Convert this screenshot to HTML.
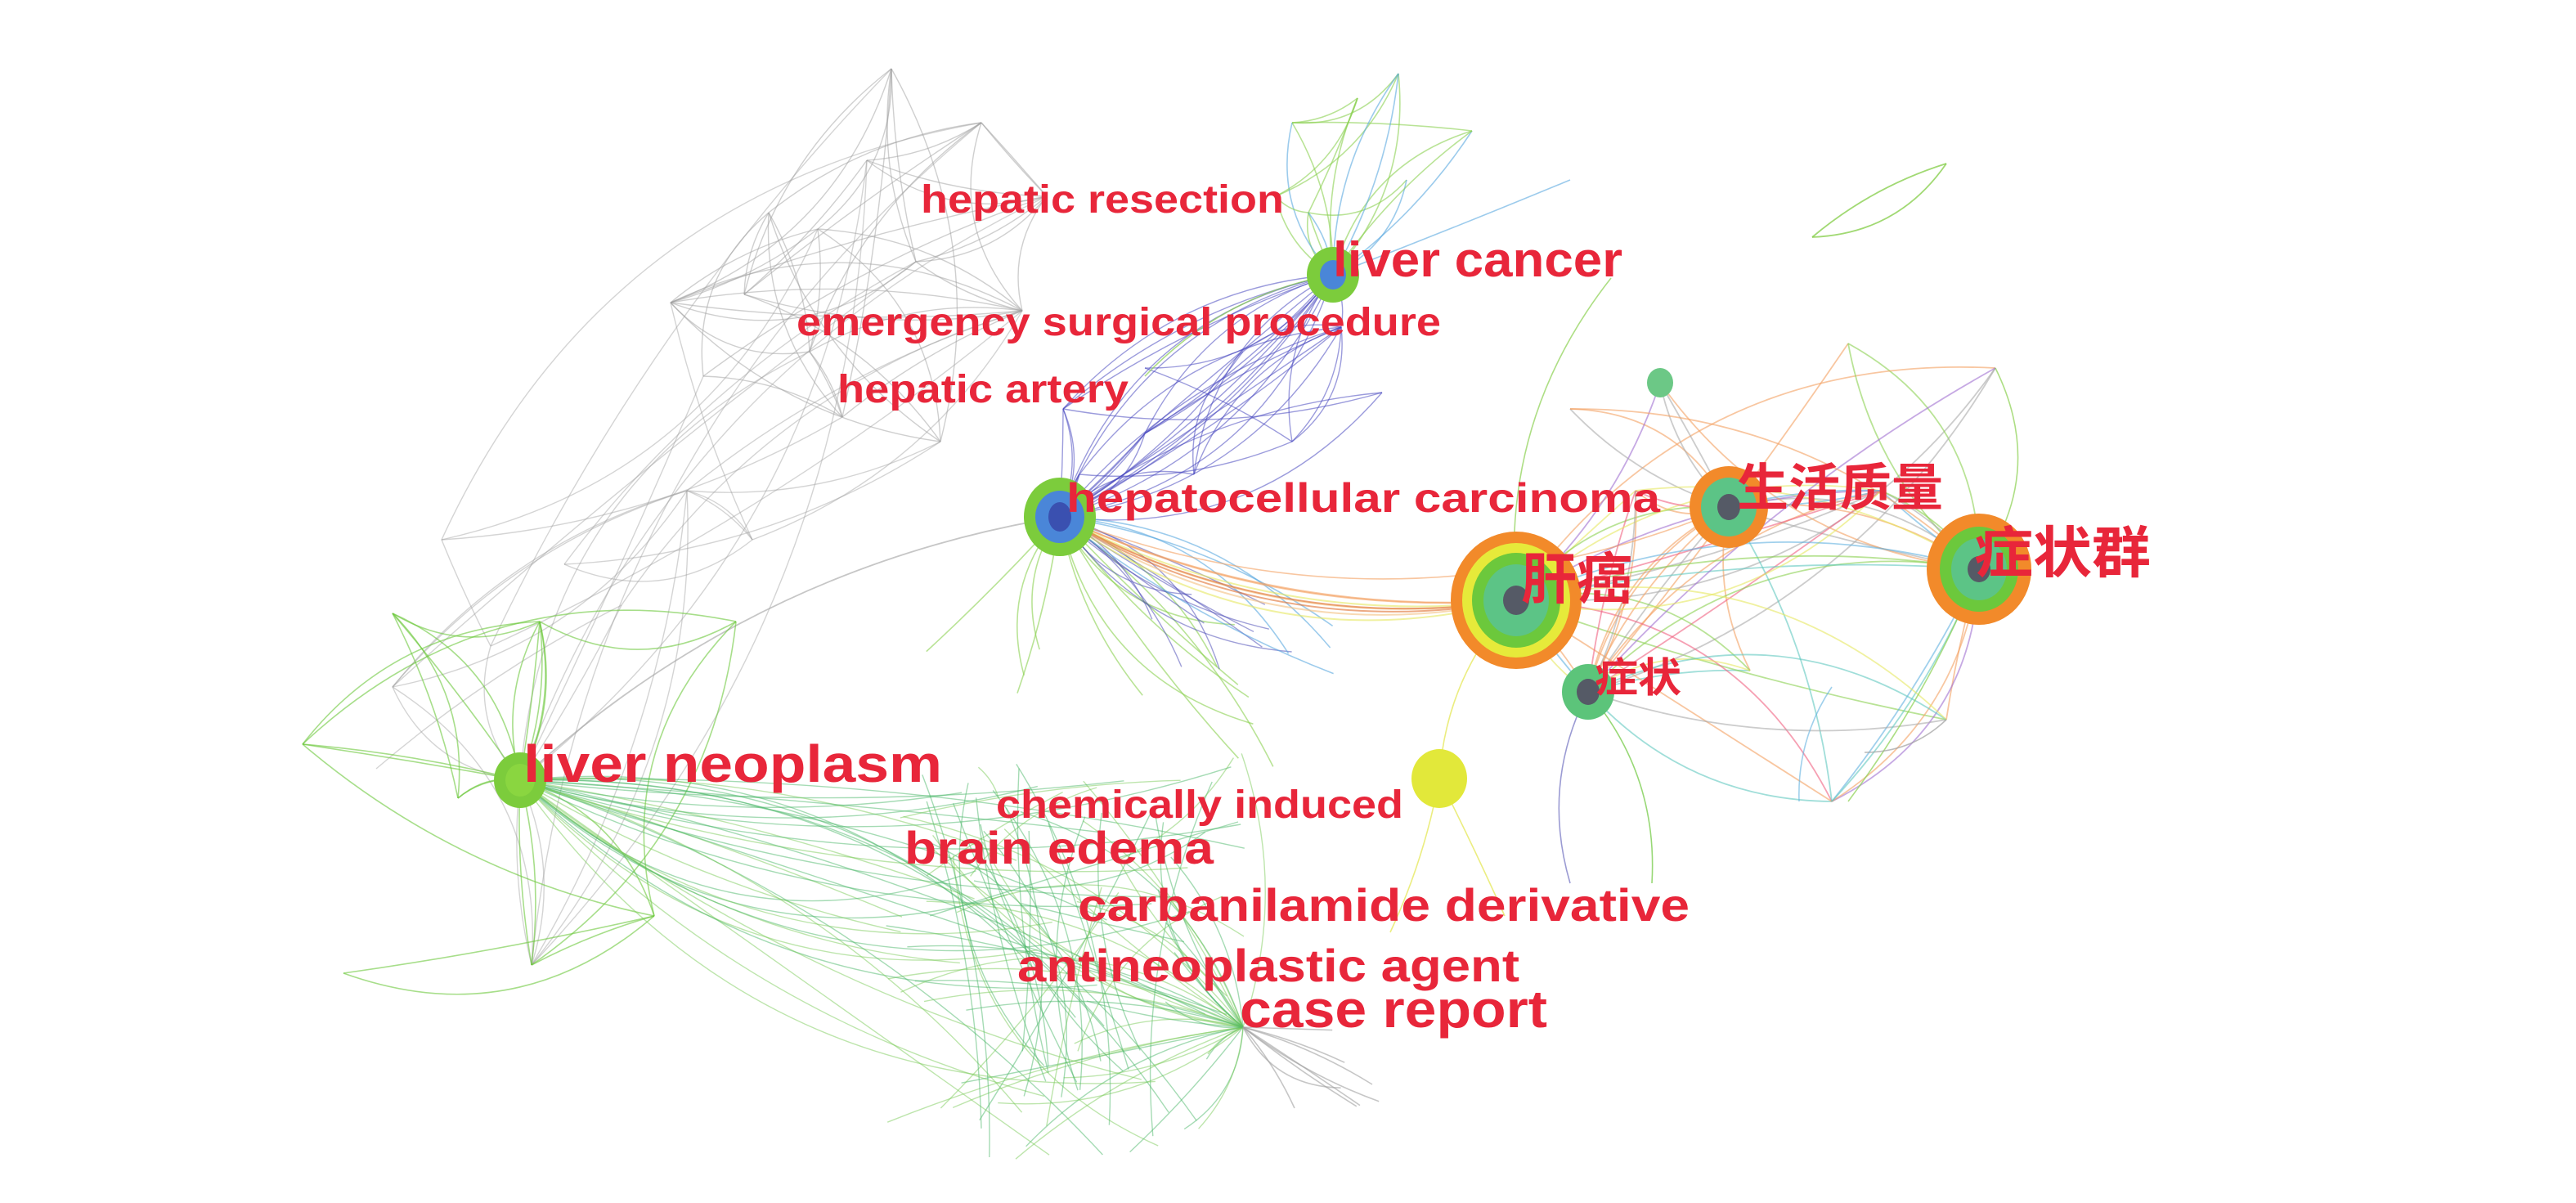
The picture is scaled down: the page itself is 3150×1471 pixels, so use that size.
<!DOCTYPE html>
<html><head><meta charset="utf-8"><style>
html,body{margin:0;padding:0;background:#fff;}
svg{display:block;}
text{font-family:"Liberation Sans","Noto Sans CJK SC",sans-serif;font-weight:bold;fill:#e8263a;}
</style></head><body>
<svg id="s" width="3150" height="1471" viewBox="0 0 1575 735.5" preserveAspectRatio="none" xmlns="http://www.w3.org/2000/svg">
<g id="edges" fill="none"></g>
<g id="nodes">
  <ellipse cx="927" cy="367" rx="40" ry="42" fill="#f28a2a"/>
  <ellipse cx="927" cy="367" rx="33" ry="35" fill="#e6ea3a"/>
  <ellipse cx="927" cy="367" rx="27" ry="29" fill="#6cc83c"/>
  <ellipse cx="927" cy="367" rx="20" ry="22" fill="#5cc486"/>
  <ellipse cx="927" cy="367" rx="8" ry="9" fill="#555a66"/>
  <ellipse cx="1057" cy="310" rx="24" ry="25" fill="#f28a2a"/>
  <ellipse cx="1057" cy="310" rx="17" ry="18" fill="#5cc486"/>
  <ellipse cx="1057" cy="310" rx="7" ry="8" fill="#555a66"/>
  <ellipse cx="1210" cy="348" rx="32" ry="34" fill="#f28a2a"/>
  <ellipse cx="1210" cy="348" rx="24" ry="26" fill="#6cc83c"/>
  <ellipse cx="1210" cy="348" rx="17" ry="19" fill="#5cc486"/>
  <ellipse cx="1210" cy="348" rx="7" ry="8" fill="#555a66"/>
  <ellipse cx="971" cy="423" rx="16" ry="17" fill="#5cc47a"/>
  <ellipse cx="971" cy="423" rx="7" ry="8" fill="#555a66"/>
  <ellipse cx="648" cy="316" rx="22" ry="24" fill="#7ccc3c"/>
  <ellipse cx="648" cy="316" rx="15" ry="16" fill="#4a86d8"/>
  <ellipse cx="648" cy="316" rx="7" ry="9" fill="#3a50b0"/>
  <ellipse cx="815" cy="168" rx="16" ry="17" fill="#7ccc3c"/>
  <ellipse cx="815" cy="168" rx="8" ry="9" fill="#4a86d8"/>
  <ellipse cx="318" cy="477" rx="16" ry="17" fill="#7ccc3c"/>
  <ellipse cx="318" cy="477" rx="9" ry="10" fill="#8ad640"/>
  <ellipse cx="880" cy="476" rx="17" ry="18" fill="#e2e83a"/>
  <ellipse cx="1015" cy="234" rx="8" ry="9" fill="#6cc886"/>
</g>
<g id="labels">
  <text x="563" y="130" font-size="24" textLength="222" lengthAdjust="spacingAndGlyphs">hepatic resection</text>
  <text x="815" y="169" font-size="30" textLength="177" lengthAdjust="spacingAndGlyphs">liver cancer</text>
  <text x="487" y="205" font-size="24" textLength="394" lengthAdjust="spacingAndGlyphs">emergency surgical procedure</text>
  <text x="512" y="246" font-size="24" textLength="178" lengthAdjust="spacingAndGlyphs">hepatic artery</text>
  <text x="652" y="313" font-size="25" textLength="363" lengthAdjust="spacingAndGlyphs">hepatocellular carcinoma</text>
  <text x="1062" y="309" font-size="31" textLength="126" lengthAdjust="spacingAndGlyphs">生活质量</text>
  <text x="930" y="366" font-size="34" textLength="68" lengthAdjust="spacingAndGlyphs">肝癌</text>
  <text x="1207" y="350" font-size="34" textLength="108" lengthAdjust="spacingAndGlyphs">症状群</text>
  <text x="975" y="423" font-size="25" textLength="53" lengthAdjust="spacingAndGlyphs">症状</text>
  <text x="320" y="478" font-size="32" textLength="256" lengthAdjust="spacingAndGlyphs">liver neoplasm</text>
  <text x="609" y="500" font-size="24" textLength="249" lengthAdjust="spacingAndGlyphs">chemically induced</text>
  <text x="553" y="528" font-size="28" textLength="189" lengthAdjust="spacingAndGlyphs">brain edema</text>
  <text x="659" y="563" font-size="28" textLength="374" lengthAdjust="spacingAndGlyphs">carbanilamide derivative</text>
  <text x="622" y="600" font-size="28" textLength="307" lengthAdjust="spacingAndGlyphs">antineoplastic agent</text>
  <text x="758" y="628" font-size="32" textLength="188" lengthAdjust="spacingAndGlyphs">case report</text>
</g>
</svg>
<script>
(function(){
var seed=12345;function r(){seed=(seed*16807)%2147483647;return seed/2147483647;}
var g=document.getElementById('edges');var out='';
function curve(a,b,c,w,op,bend){
  var dx=b[0]-a[0],dy=b[1]-a[1];var k=(bend===undefined)?(r()*0.6-0.3):bend;
  var mx=(a[0]+b[0])/2-dy*k,my=(a[1]+b[1])/2+dx*k;
  out+='<path d="M'+a[0].toFixed(1)+' '+a[1].toFixed(1)+'Q'+mx.toFixed(1)+' '+my.toFixed(1)+' '+b[0].toFixed(1)+' '+b[1].toFixed(1)+'" stroke="'+c+'" stroke-width="'+w+'" stroke-opacity="'+op+'"/>';
}
function rp(x0,y0,x1,y1){return [x0+r()*(x1-x0),y0+r()*(y1-y0)];}
var gray='#a0a0a0';
var gp=[[545,42],[470,130],[410,185],[575,270],[640,120],[530,98],[455,180],[515,255],[600,75],[495,215],[560,160],[430,230],[625,190],[500,140]];
for(var i=0;i<50;i++){var a=gp[Math.floor(r()*gp.length)],b=gp[Math.floor(r()*gp.length)];if(a===b)continue;curve(a,b,gray,0.7,0.5);}
var gl=[[318,477],[345,345],[270,330],[300,395],[240,420],[420,300],[380,370],[460,330],[325,590],[230,470]];
for(var i=0;i<35;i++){var a=gl[Math.floor(r()*gl.length)],b=r()<0.5?gp[Math.floor(r()*gp.length)]:gl[Math.floor(r()*gl.length)];if(a===b)continue;curve(a,b,gray,0.7,0.45);}
curve([318,477],[648,316],gray,0.9,0.6,-0.15);
var gL=[[185,455],[210,595],[325,590],[240,375],[330,380],[280,488],[400,560],[450,380]];
for(var i=0;i<26;i++){var a=gL[Math.floor(r()*gL.length)],b=r()<0.6?[318,477]:gL[Math.floor(r()*gL.length)];if(a===b)continue;curve(a,b,'#6cc83c',0.8,0.6);}
var cr=[760,628];
for(var i=0;i<90;i++){var p=rp(540,460,770,710);var hub=r()<0.45?[318,477]:(r()<0.6?cr:rp(550,470,760,560));curve(p,hub,r()<0.5?'#4cb86a':'#7ccc5a',0.7,0.5);}
for(var i=0;i<16;i++){curve(rp(560,460,680,520),rp(600,640,700,710),'#4cb86a',0.7,0.5);}
for(var i=0;i<8;i++){curve(cr,rp(790,620,850,680),gray,0.8,0.6);}
for(var i=0;i<12;i++){curve([648,316],rp(560,380,780,470),'#8ad050',0.8,0.6);}
var pp=[[650,250],[700,225],[760,215],[845,240],[790,270],[730,290],[660,290],[820,200],[700,265]];
for(var i=0;i<50;i++){var a=r()<0.4?[648,316]:pp[Math.floor(r()*pp.length)],b=r()<0.3?[815,168]:pp[Math.floor(r()*pp.length)];if(a===b)continue;curve(a,b,'#4848c0',0.7,0.55);}
for(var i=0;i<10;i++){curve([648,316],rp(700,350,800,420),'#5050b8',0.7,0.55);}
for(var i=0;i<4;i++){curve([648,316],rp(780,380,830,420),'#5aa8e0',0.8,0.6);}
var lc=[[790,75],[855,45],[800,130],[860,110],[830,60],[780,120],[900,80]];
for(var i=0;i<22;i++){var a=r()<0.5?[815,168]:lc[Math.floor(r()*lc.length)],b=lc[Math.floor(r()*lc.length)];if(a===b)continue;curve(a,b,r()<0.7?'#8ad050':'#5aa8e0',0.8,0.6);}
curve([815,168],[700,230],'#8ad050',0.8,0.7);curve([815,168],[960,110],'#5aa8e0',0.8,0.6);
var R=[[927,367],[1057,310],[1210,348],[971,423],[1015,234],[1130,210],[1220,225],[1190,440],[1120,490],[960,250],[1000,300],[1070,410],[1150,300]];
var cols=['#f4a060','#f4a060','#f4a060','#aaaaaa','#aaaaaa','#e6e860','#8ad050','#60b0e0','#f06080','#a070d0','#60c8c0'];
for(var i=0;i<70;i++){var a=R[Math.floor(r()*4)],b=R[Math.floor(r()*R.length)];if(a===b)continue;curve(a,b,cols[Math.floor(r()*cols.length)],0.9,0.6);}
for(var i=0;i<8;i++){curve([648,316],[927,367],['#f4a060','#e6e860','#e07030','#f4c080'][i%4],1,0.6,0.1+r()*0.15);}
curve([648,316],[1057,310],'#f4a060',0.8,0.6,0.2);
curve([927,367],[985,170],'#8ad050',0.8,0.7,-0.2);
curve([971,423],[960,540],'#7070c0',0.8,0.7,0.2);curve([971,423],[1010,540],'#6cc83c',0.8,0.7,-0.2);
curve([880,476],[850,570],'#e6e860',0.8,0.8);curve([880,476],[920,560],'#e6e860',0.8,0.8);curve([880,476],[927,367],'#e6e860',0.8,0.8);
curve([1210,348],[1220,225],'#8ad050',0.8,0.7,0.3);curve([1210,348],[1130,490],'#8ad050',0.8,0.7);
curve([1140,460],[1190,440],gray,0.8,0.7,0.2);curve([1100,490],[1120,420],'#60b0e0',0.8,0.6);
curve([1108,145],[1190,100],'#8ad050',0.9,0.8,0.25);curve([1108,145],[1190,100],'#8ad050',0.9,0.8,-0.1);
g.innerHTML=out;
})();
</script>
</body></html>
